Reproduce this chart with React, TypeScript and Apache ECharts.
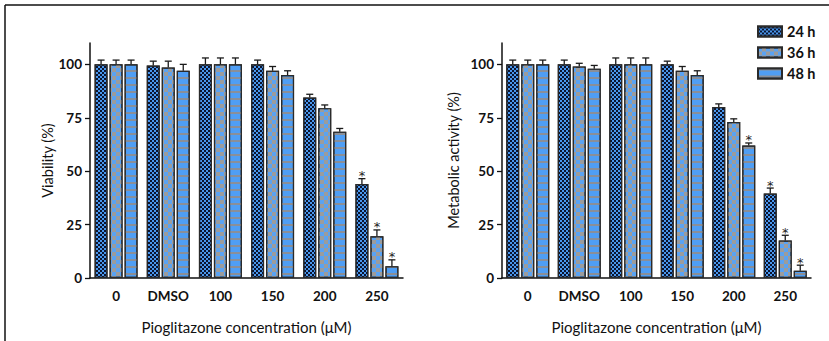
import { useEffect, useRef } from 'react';
import * as echarts from 'echarts';

const categories = ['0', 'DMSO', '100', '150', '200', '250'];
const seriesNames = ['24 h', '36 h', '48 h'];
const yTicks = [0, 25, 50, 75, 100];

// Left panel: Viability (%)
const viability24 = [100, 99.5, 100, 100, 84.5, 44];
const viability36 = [100, 98.5, 100, 97, 79.5, 19.5];
const viability48 = [100, 97, 100, 95, 68.5, 5.5];
const viabilityErr24 = [2, 2, 3, 2, 1.5, 2.5];
const viabilityErr36 = [2, 3, 3, 2, 1.5, 3];
const viabilityErr48 = [2, 3, 3, 2, 1.5, 3];
const viabilityStar24 = [0, 0, 0, 0, 0, 1];
const viabilityStar36 = [0, 0, 0, 0, 0, 1];
const viabilityStar48 = [0, 0, 0, 0, 0, 1];

// Right panel: Metabolic activity (%)
const metabolic24 = [100, 100, 100, 100, 80, 39.5];
const metabolic36 = [100, 99, 100, 97, 73, 17.5];
const metabolic48 = [100, 98, 100, 95, 62, 3.4];
const metabolicErr24 = [2, 2, 3, 1.5, 1.5, 2.6];
const metabolicErr36 = [2, 1.5, 3, 2, 1.5, 2.5];
const metabolicErr48 = [2, 1.5, 3, 2, 1.2, 2.6];
const metabolicStar24 = [0, 0, 0, 0, 0, 1];
const metabolicStar36 = [0, 0, 0, 0, 0, 1];
const metabolicStar48 = [0, 0, 0, 0, 1, 1];

const FONT = 'Lato, "Open Sans", sans-serif';
const BAR_W = 13;
const BAR_GAP_PX = 2;

const styles = [
  {
    color: '#4a97ec',
    decal: {
      symbol: 'rect',
      symbolSize: 1,
      color: '#0a1430',
      dashArrayX: [[2, 2], [0, 2, 2, 0]],
      dashArrayY: [2, 0],
      rotation: 0,
    },
  },
  {
    color: '#5aa3f3',
    decal: {
      symbol: 'rect',
      symbolSize: 1,
      color: '#9c9c9c',
      dashArrayX: [[4, 4], [0, 4, 4, 0]],
      dashArrayY: [4, 0],
      rotation: 0,
    },
  },
  {
    color: '#4f9ef4',
    decal: {
      symbol: 'rect',
      symbolSize: 1,
      color: '#8a8f98',
      dashArrayX: [10, 0],
      dashArrayY: [1.2, 4.1],
      rotation: 0,
    },
  },
];

function errData(vals: number[][], errs: number[][], stars: number[][]) {
  const out: number[][] = [];
  for (let k = 0; k < 3; k++) {
    for (let i = 0; i < categories.length; i++) {
      out.push([i, vals[k][i], errs[k][i], stars[k][i], k]);
    }
  }
  return out;
}

const renderErr = (params: any, api: any) => {
  const ci = api.value(0);
  const v = api.value(1);
  const e = api.value(2);
  const star = api.value(3);
  const k = api.value(4);
  const off = (k - 1) * (BAR_W + BAR_GAP_PX);
  const top = api.coord([ci, v]);
  const cap = api.coord([ci, v + e]);
  const x = top[0] + off;
  const stroke = { stroke: '#1a1a1a', lineWidth: 1.3 };
  const children: any[] = [
    { type: 'line', shape: { x1: x, y1: top[1], x2: x, y2: cap[1] }, style: stroke },
    { type: 'line', shape: { x1: x - 3.5, y1: cap[1], x2: x + 3.5, y2: cap[1] }, style: stroke },
  ];
  if (star) {
    children.push({
      type: 'text',
      style: {
        text: '*',
        x: x,
        y: cap[1] - 3,
        align: 'center',
        verticalAlign: 'middle',
        fontSize: 13,
        fontFamily: '"DejaVu Sans", sans-serif',
        fill: '#222',
      },
    });
  }
  return { type: 'group', children };
};

function axisPair(gridIndex: number, yName: string, nameGap: number) {
  const xAxis = {
    type: 'category',
    gridIndex,
    data: categories,
    name: 'Pioglitazone concentration (\u03bcM)',
    nameLocation: 'middle',
    nameGap: 41,
    nameTextStyle: { fontFamily: FONT, fontSize: 15, color: '#111' },
    axisLine: { lineStyle: { color: '#111', width: 1.5 } },
    axisTick: { alignWithLabel: true, length: 5, lineStyle: { color: '#111', width: 1.3 } },
    axisLabel: {
      interval: 0,
      margin: 11,
      fontFamily: FONT,
      fontWeight: 'bold',
      fontSize: 13.5,
      color: '#111',
    },
  };
  const yAxis = {
    type: 'value',
    gridIndex,
    min: 0,
    max: 110,
    interval: 25,
    name: yName,
    nameLocation: 'middle',
    nameGap,
    nameTextStyle: { fontFamily: FONT, fontSize: 14.5, color: '#111' },
    splitLine: { show: false },
    axisLine: { show: true, lineStyle: { color: '#111', width: 1.5 } },
    axisTick: { show: true, length: 5, customValues: yTicks, lineStyle: { color: '#111', width: 1.3 } },
    axisLabel: {
      customValues: yTicks,
      margin: 8,
      fontFamily: FONT,
      fontWeight: 'bold',
      fontSize: 13.5,
      color: '#111',
    },
  };
  return { xAxis, yAxis };
}

export default function App() {
  const ref = useRef<HTMLDivElement>(null);
  useEffect(() => {
    if (!ref.current) return;
    const chart = echarts.init(ref.current, null, { renderer: 'svg' });
    const a0 = axisPair(0, 'Viability (%)', 34);
    const a1 = axisPair(1, 'Metabolic activity (%)', 41);
    const leftVals = [viability24, viability36, viability48];
    const rightVals = [metabolic24, metabolic36, metabolic48];
    const series: any[] = [];
    [leftVals, rightVals].forEach((vals, g) => {
      vals.forEach((arr, k) => {
        series.push({
          type: 'bar',
          name: seriesNames[k],
          xAxisIndex: g,
          yAxisIndex: g,
          data: arr,
          barWidth: BAR_W,
          barGap: ((BAR_GAP_PX / BAR_W) * 100).toFixed(1) + '%',
          itemStyle: {
            color: styles[k].color,
            decal: styles[k].decal,
            borderColor: '#2a2a2a',
            borderWidth: 1.2,
          },
          emphasis: { disabled: true },
        });
      });
    });
    series.push({
      type: 'custom',
      name: 'errLeft',
      xAxisIndex: 0,
      yAxisIndex: 0,
      renderItem: renderErr,
      encode: { x: 0, y: 1 },
      data: errData(
        leftVals,
        [viabilityErr24, viabilityErr36, viabilityErr48],
        [viabilityStar24, viabilityStar36, viabilityStar48]
      ),
      z: 5,
    });
    series.push({
      type: 'custom',
      name: 'errRight',
      xAxisIndex: 1,
      yAxisIndex: 1,
      renderItem: renderErr,
      encode: { x: 0, y: 1 },
      data: errData(
        rightVals,
        [metabolicErr24, metabolicErr36, metabolicErr48],
        [metabolicStar24, metabolicStar36, metabolicStar48]
      ),
      z: 5,
    });

    chart.setOption({
      animation: false,
      backgroundColor: '#ffffff',
      grid: [
        { left: 90, top: 43, width: 313, height: 235 },
        { left: 502, top: 43, width: 309, height: 235 },
      ],
      xAxis: [a0.xAxis, a1.xAxis],
      yAxis: [a0.yAxis, a1.yAxis],
      legend: {
        data: seriesNames,
        orient: 'vertical',
        left: 752,
        top: 19,
        icon: 'rect',
        itemWidth: 24,
        itemHeight: 10,
        itemGap: 6,
        textStyle: { fontFamily: FONT, fontWeight: 'bold', fontSize: 14.5, color: '#111' },
        selectedMode: false,
      },
      graphic: [
        { type: 'line', shape: { x1: 5, y1: 5, x2: 829, y2: 5 }, style: { stroke: '#111', lineWidth: 1.5 } },
        { type: 'line', shape: { x1: 5, y1: 5, x2: 5, y2: 341 }, style: { stroke: '#111', lineWidth: 1.5 } },
      ],
      series,
    });
    return () => chart.dispose();
  }, []);
  return (
    <div
      ref={ref}
      style={{ position: 'fixed', left: 0, top: 0, width: 829, height: 341, background: '#fff' }}
    />
  );
}
